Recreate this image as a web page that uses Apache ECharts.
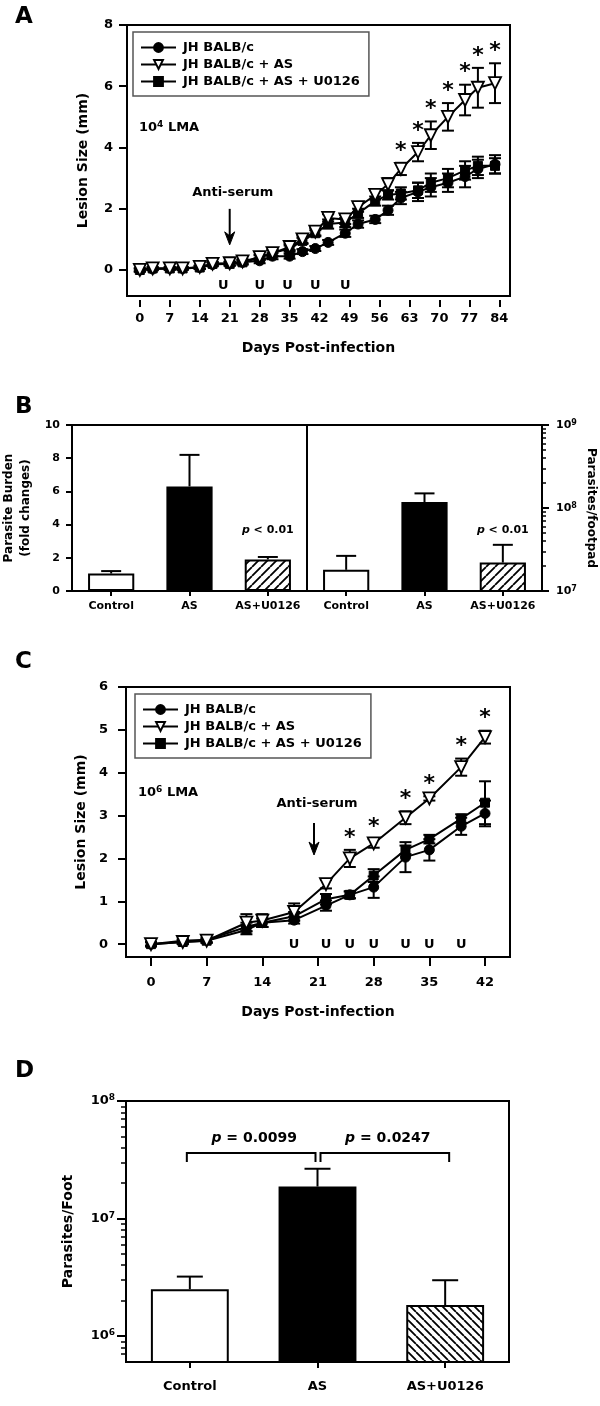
<!DOCTYPE html>
<html>
<head>
<meta charset="utf-8">
<script src="https://cdn.jsdelivr.net/npm/echarts@6.0.0/dist/echarts.min.js"></script>
<style>
html,body{margin:0;padding:0;background:#fff;}
#chart{width:600px;height:1406px;}
</style>
</head>
<body>
<div id="chart"></div>
<script>
// ---------------- DATA ----------------
const seriesNames = ['JH BALB/c', 'JH BALB/c + AS', 'JH BALB/c + AS + U0126'];

// Panel A (10^4 LMA)
const daysA  = [0,3,7,10,14,17,21,24,28,31,35,38,41,44,48,51,55,58,61,65,68,72,76,79,83];
const aJH    = [0,0.03,0.05,0.05,0.08,0.18,0.2,0.25,0.3,0.45,0.45,0.6,0.7,0.9,1.2,1.5,1.65,1.95,2.35,2.55,2.7,2.85,3.05,3.3,3.45];
const aJHErr = [0.05,0.04,0.04,0.04,0.05,0.06,0.06,0.07,0.08,0.1,0.08,0.08,0.08,0.08,0.12,0.12,0.12,0.15,0.2,0.3,0.3,0.3,0.35,0.3,0.3];
const aAS    = [0,0.05,0.05,0.05,0.1,0.2,0.22,0.28,0.42,0.55,0.75,1.0,1.25,1.7,1.65,2.05,2.45,2.8,3.3,3.85,4.4,5.0,5.55,5.95,6.1];
const aASErr = [0.05,0.04,0.04,0.04,0.05,0.06,0.06,0.07,0.08,0.1,0.1,0.12,0.12,0.12,0.15,0.15,0.15,0.2,0.2,0.3,0.45,0.45,0.5,0.65,0.65];
const aU     = [0,0.05,0.05,0.05,0.08,0.2,0.2,0.25,0.4,0.55,0.7,0.95,1.2,1.5,1.55,1.85,2.25,2.45,2.5,2.6,2.85,3.0,3.25,3.4,3.4];
const aUErr  = [0.05,0.04,0.04,0.04,0.05,0.06,0.06,0.07,0.08,0.1,0.1,0.1,0.1,0.15,0.15,0.15,0.15,0.15,0.2,0.25,0.3,0.3,0.3,0.3,0.25];
const starDaysA = [61,65,68,72,76,79,83];
const uDaysA    = [19.5,28,34.5,41,48];
const xTicksA   = [0,7,14,21,28,35,42,49,56,63,70,77,84];
const yTicksA   = [0,2,4,6,8];

// Panel B
const catsB     = ['Control','AS','AS+U0126'];
const bFold     = [1.05, 6.3, 1.9];
const bFoldErr  = [0.15, 1.9, 0.15];
const bPar      = [1.8e7, 1.18e8, 2.2e7];
const bParErr   = [0.85e7, 0.32e8, 1.4e7];
const bLogTicks = [1e7, 1e8, 1e9];
const bLogMinor = [2e7,3e7,4e7,5e7,6e7,7e7,8e7,9e7,2e8,3e8,4e8,5e8,6e8,7e8,8e8,9e8];

// Panel C (10^6 LMA)
const daysC  = [0,4,7,12,14,18,22,25,28,32,35,39,42];
const cJH    = [0,0.08,0.1,0.4,0.5,0.56,0.9,1.15,1.33,2.03,2.2,2.75,3.05];
const cJHErr = [0.05,0.05,0.05,0.1,0.1,0.08,0.12,0.08,0.25,0.35,0.25,0.2,0.3];
const cAS    = [0,0.05,0.08,0.5,0.55,0.75,1.4,2.0,2.35,2.95,3.4,4.13,4.83];
const cASErr = [0.05,0.05,0.05,0.2,0.15,0.2,0.1,0.2,0.1,0.15,0.05,0.2,0.15];
const cU     = [0,0.05,0.08,0.33,0.5,0.65,1.05,1.15,1.6,2.2,2.45,2.93,3.3];
const cUErr  = [0.05,0.05,0.05,0.1,0.1,0.1,0.12,0.08,0.15,0.1,0.1,0.1,0.5];
const starDaysC = [25,28,32,35,39,42];
const uDaysC    = [18,22,25,28,32,35,39];
const xTicksC   = [0,7,14,21,28,35,42];
const yTicksC   = [0,1,2,3,4,5,6];

// Panel D
const catsD     = ['Control','AS','AS+U0126'];
const dPar      = [2.5e6, 1.87e7, 1.83e6];
const dParErr   = [0.7e6, 0.78e7, 1.15e6];
const dPairs    = [[0,1],[1,2]];
const dPText    = ['0.0099','0.0247'];
const dLogTicks = [1e6, 1e7, 1e8];
const dLogMinor = [7e5,8e5,9e5,2e6,3e6,4e6,5e6,6e6,7e6,8e6,9e6,2e7,3e7,4e7,5e7,6e7,7e7,8e7,9e7];

// ---------------- HELPERS ----------------
const FF = 'DejaVu Sans';
function txt(size, extra) { return Object.assign({color:'#000', fontFamily:FF, fontWeight:'bold', fontSize:size}, extra || {}); }
const hiddenLine = {show:false, onZero:false};

function supFormatter(v) { return '{b|10}{s|' + Math.round(Math.log10(v)) + '}'; }
function supRich(base, sup) {
  return { b: txt(base, {lineHeight: base + 2}), s: txt(sup, {verticalAlign:'top', lineHeight: sup + 1}) };
}

function hatchPattern(dir, step, lw) {
  const c = document.createElement('canvas');
  c.width = step; c.height = step;
  const g = c.getContext('2d');
  g.fillStyle = '#fff'; g.fillRect(0, 0, step, step);
  g.strokeStyle = '#000'; g.lineWidth = lw;
  g.beginPath();
  for (let k = -1; k <= 1; k++) {
    if (dir > 0) { g.moveTo(k * step, step); g.lineTo(k * step + step, 0); }
    else { g.moveTo(k * step, 0); g.lineTo(k * step + step, step); }
  }
  g.stroke();
  return c;
}

function errBars(both, cap) {
  return function (params, api) {
    const x = api.value(0), v = api.value(1), e = api.value(2);
    const pTop = api.coord([x, v + e]);
    const pBot = api.coord([x, both ? v - e : v]);
    const st = {stroke:'#000', lineWidth:2, fill:null};
    const ch = [
      {type:'line', shape:{x1:pTop[0], y1:pTop[1], x2:pBot[0], y2:pBot[1]}, style:st},
      {type:'line', shape:{x1:pTop[0]-cap, y1:pTop[1], x2:pTop[0]+cap, y2:pTop[1]}, style:st}
    ];
    if (both) ch.push({type:'line', shape:{x1:pBot[0]-cap, y1:pBot[1], x2:pBot[0]+cap, y2:pBot[1]}, style:st});
    return {type:'group', children:ch};
  };
}

function textMark(str, size, dy, rich) {
  return function (params, api) {
    const p = api.coord([api.value(0), api.value(1)]);
    const style = {text:str, x:p[0], y:p[1] + dy, align:'center', verticalAlign:'middle',
      textAlign:'center', textVerticalAlign:'middle',
      font:'bold ' + size + 'px "' + FF + '"', fill:'#000'};
    if (rich) style.rich = rich;
    return {type:'text', style:style};
  };
}

function arrowMark(textGap, len) {
  return function (params, api) {
    const tip = api.coord([api.value(0), api.value(1)]);
    const x = tip[0], y = tip[1];
    const st = {stroke:'#000', lineWidth:2, fill:null};
    return {type:'group', children:[
      {type:'line', shape:{x1:x, y1:y - len, x2:x, y2:y - 6}, style:st},
      {type:'polygon', shape:{points:[[x-5, y-13],[x, y],[x+5, y-13],[x, y-9]]}, style:{fill:'#000', stroke:'#000', lineWidth:1}},
      {type:'text', style:{text:'Anti-serum', x:x + 3, y:y - textGap, align:'center', verticalAlign:'middle',
        textAlign:'center', textVerticalAlign:'middle', font:'bold 13px "' + FF + '"', fill:'#000'}}
    ]};
  };
}

function bracketMark(params, api) {
  const a = api.value(0), b = api.value(1), lvl = api.value(2);
  const pa = api.coord([a, lvl]), pb = api.coord([b, lvl]);
  const x1 = pa[0] + (params.dataIndex === 0 ? -3 : 3);
  const x2 = pb[0] + (params.dataIndex === 0 ? -2 : 4);
  const y = pa[1];
  const st = {stroke:'#000', lineWidth:2, fill:null};
  return {type:'group', children:[
    {type:'polyline', shape:{points:[[x1, y + 9],[x1, y],[x2, y],[x2, y + 9]]}, style:st},
    {type:'text', style:{text:'{i|p}{n| = ' + dPText[params.dataIndex] + '}', x:(x1 + x2) / 2 + 3, y:y - 15,
      align:'center', verticalAlign:'middle', textAlign:'center', textVerticalAlign:'middle',
      rich:{i:txt(14, {fontStyle:'italic'}), n:txt(14)}}}
  ]};
}

function lineSeries(name, xi, yi, days, vals, kind) {
  const s = {type:'line', name:name, xAxisIndex:xi, yAxisIndex:yi, data:days.map((d, i) => [d, vals[i]]),
    lineStyle:{color:'#000', width:2}, color:'#000', z:4, silent:true, animation:false};
  if (kind === 'circle') { s.symbol = 'circle'; s.symbolSize = 10; s.itemStyle = {color:'#000', borderColor:'#000', borderWidth:1}; }
  if (kind === 'tri') { s.symbol = 'triangle'; s.symbolRotate = 180; s.symbolSize = 12; s.itemStyle = {color:'#fff', borderColor:'#000', borderWidth:1.8}; }
  if (kind === 'rect') { s.symbol = 'rect'; s.symbolSize = 9; s.itemStyle = {color:'#000', borderColor:'#000', borderWidth:1}; }
  return s;
}
function errSeries(xi, yi, days, vals, errs, both, cap) {
  return {type:'custom', xAxisIndex:xi, yAxisIndex:yi, z:3, silent:true,
    data:days.map((d, i) => [d, vals[i], errs[i]]), renderItem:errBars(both, cap)};
}
function starSeries(xi, yi, starDays, days, vals, errs) {
  return {type:'custom', xAxisIndex:xi, yAxisIndex:yi, z:5, silent:true,
    data:starDays.map(d => { const i = days.indexOf(d); return [d, vals[i] + errs[i]]; }),
    renderItem:textMark('*', 22, -12)};
}

const hatchB = hatchPattern(1, 9, 1.8);
const hatchD = hatchPattern(-1, 8, 1.8);
const barFill = (i, hatch) => [{color:'#fff'}, {color:'#000'}, {color:{image:hatch, repeat:'repeat'}}][i];
function barData(vals, hatch) {
  return vals.map((v, i) => ({value:v, itemStyle:Object.assign({borderColor:'#000', borderWidth:2}, barFill(i, hatch))}));
}

const gridBase = {show:true, borderColor:'#000', borderWidth:2, backgroundColor:'transparent', containLabel:false, outerBoundsMode:'none'};
const noSplit = {show:false};
const legendBase = {orient:'vertical', itemWidth:35, itemHeight:11, itemGap:4, selectedMode:false,
  borderColor:'#555', borderWidth:1.5, padding:[9, 9, 8, 7], textStyle:txt(13, {padding:[0,0,0,2]}), data:seriesNames};
function ticks(vals, len, w) {
  const t = {show:true, inside:false, length:len, lineStyle:{color:'#000', width:w || 2}};
  if (vals) t.customValues = vals;
  return t;
}

// ---------------- OPTION ----------------
const option = {
  animation:false,
  backgroundColor:'#fff',
  title:[
    {text:'A', left:10, top:1, textStyle:txt(23)},
    {text:'B', left:10, top:391, textStyle:txt(23)},
    {text:'C', left:10, top:646, textStyle:txt(23)},
    {text:'D', left:10, top:1055, textStyle:txt(23)},
    {text:'{b|10}{s|4}{b| LMA}', left:134, top:115, textStyle:{rich:supRich(13, 9)}},
    {text:'{b|10}{s|6}{b| LMA}', left:133, top:780, textStyle:{rich:supRich(13, 9)}}
  ],
  legend:[
    Object.assign({left:133, top:32}, legendBase),
    Object.assign({left:135, top:694}, legendBase)
  ],
  grid:[
    Object.assign({left:127, top:25, width:383, height:271}, gridBase),
    Object.assign({left:72, top:425, width:235, height:166}, gridBase),
    Object.assign({left:307, top:425, width:235, height:166}, gridBase),
    Object.assign({left:126, top:687, width:384, height:270}, gridBase),
    Object.assign({left:126, top:1101, width:383, height:261}, gridBase)
  ],
  xAxis:[
    {gridIndex:0, type:'value', min:-3, max:86.5, offset:4, axisLine:hiddenLine, splitLine:noSplit,
      axisTick:ticks(xTicksA, 7),
      axisLabel:Object.assign({customValues:xTicksA, margin:12}, txt(13)),
      name:'Days Post-infection', nameLocation:'middle', nameGap:41, nameTextStyle:txt(14)},
    {gridIndex:1, type:'category', data:catsB, axisLine:hiddenLine,
      axisTick:Object.assign(ticks(null, 5), {alignWithLabel:true}),
      axisLabel:Object.assign({margin:10, interval:0}, txt(11))},
    {gridIndex:2, type:'category', data:catsB, axisLine:hiddenLine,
      axisTick:Object.assign(ticks(null, 5), {alignWithLabel:true}),
      axisLabel:Object.assign({margin:10, interval:0}, txt(11))},
    {gridIndex:3, type:'value', min:-3.14, max:45.14, offset:1, axisLine:hiddenLine, splitLine:noSplit,
      axisTick:ticks(xTicksC, 8),
      axisLabel:Object.assign({customValues:xTicksC, margin:18}, txt(13)),
      name:'Days Post-infection', nameLocation:'middle', nameGap:47, nameTextStyle:txt(14)},
    {gridIndex:4, type:'category', data:catsD, axisLine:hiddenLine,
      axisTick:Object.assign(ticks(null, 6), {alignWithLabel:true}),
      axisLabel:Object.assign({margin:18, interval:0}, txt(13))}
  ],
  yAxis:[
    {gridIndex:0, type:'value', position:'left', min:-0.85, max:8, axisLine:hiddenLine, splitLine:noSplit,
      axisTick:ticks(yTicksA, 8),
      axisLabel:Object.assign({customValues:yTicksA, margin:14}, txt(13)),
      name:'Lesion Size (mm)', nameLocation:'middle', nameGap:37, nameTextStyle:txt(14)},
    {gridIndex:1, type:'value', position:'left', min:0, max:10, interval:2, axisLine:hiddenLine, splitLine:noSplit,
      axisTick:ticks(null, 6),
      axisLabel:Object.assign({margin:12}, txt(11)),
      name:'Parasite Burden\n(fold changes)', nameLocation:'middle', nameGap:38, nameTextStyle:txt(12, {lineHeight:17})},
    {gridIndex:2, type:'log', min:1e7, max:1e9, position:'right', axisLine:hiddenLine, splitLine:noSplit,
      axisTick:ticks(bLogTicks, 7),
      axisLabel:{customValues:bLogTicks, margin:14, formatter:supFormatter, rich:supRich(11, 8)},
      name:'Parasites/footpad', nameLocation:'middle', nameRotate:-90, nameGap:43, nameTextStyle:txt(12)},
    {gridIndex:2, type:'log', min:1e7, max:1e9, position:'right', axisLine:hiddenLine, splitLine:noSplit,
      axisTick:ticks(bLogMinor, 4, 1.5),
      axisLabel:{show:false}},
    {gridIndex:3, type:'value', position:'left', min:-0.3, max:6, axisLine:hiddenLine, splitLine:noSplit,
      axisTick:ticks(yTicksC, 8),
      axisLabel:Object.assign({customValues:yTicksC, margin:18}, txt(13)),
      name:'Lesion Size (mm)', nameLocation:'middle', nameGap:35, nameTextStyle:txt(14)},
    {gridIndex:4, type:'log', position:'left', min:6e5, max:1e8, axisLine:hiddenLine, splitLine:noSplit,
      axisTick:ticks(dLogTicks, 9),
      axisLabel:{customValues:dLogTicks, margin:11, formatter:supFormatter, rich:supRich(13, 9)},
      name:'Parasites/Foot', nameLocation:'middle', nameGap:51, nameTextStyle:txt(14)},
    {gridIndex:4, type:'log', position:'left', min:6e5, max:1e8, axisLine:hiddenLine, splitLine:noSplit,
      axisTick:ticks(dLogMinor, 5, 1.5),
      axisLabel:{show:false}}
  ],
  series:[
    // ----- Panel A
    errSeries(0, 0, daysA, aJH, aJHErr, true, 6),
    errSeries(0, 0, daysA, aU, aUErr, true, 6),
    errSeries(0, 0, daysA, aAS, aASErr, true, 6),
    lineSeries(seriesNames[0], 0, 0, daysA, aJH, 'circle'),
    lineSeries(seriesNames[2], 0, 0, daysA, aU, 'rect'),
    lineSeries(seriesNames[1], 0, 0, daysA, aAS, 'tri'),
    starSeries(0, 0, starDaysA, daysA, aAS, aASErr),
    {type:'custom', xAxisIndex:0, yAxisIndex:0, silent:true, data:uDaysA.map(d => [d, -0.5]), renderItem:textMark('U', 13, 0)},
    {type:'custom', xAxisIndex:0, yAxisIndex:0, silent:true, data:[[21, 0.82]], renderItem:arrowMark(52, 36)},
    // ----- Panel B
    {type:'bar', xAxisIndex:1, yAxisIndex:1, barWidth:'59%', silent:true, z:2, data:barData(bFold, hatchB)},
    {type:'custom', xAxisIndex:1, yAxisIndex:1, silent:true, z:1, data:bFold.map((v, i) => [i, v, bFoldErr[i]]), renderItem:errBars(false, 10)},
    {type:'custom', xAxisIndex:1, yAxisIndex:1, silent:true, data:[[2, 3.65]], renderItem:textMark('{i|p}{n| < 0.01}', 11, 0, {i:txt(11, {fontStyle:'italic'}), n:txt(11)})},
    {type:'bar', xAxisIndex:2, yAxisIndex:2, barWidth:'59%', silent:true, z:2, clip:true, data:barData(bPar, hatchB)},
    {type:'custom', xAxisIndex:2, yAxisIndex:2, silent:true, z:1, data:bPar.map((v, i) => [i, v, bParErr[i]]), renderItem:errBars(false, 10)},
    {type:'custom', xAxisIndex:2, yAxisIndex:2, silent:true, data:[[2, 5.4e7]], renderItem:textMark('{i|p}{n| < 0.01}', 11, 0, {i:txt(11, {fontStyle:'italic'}), n:txt(11)})},
    // ----- Panel C
    errSeries(3, 4, daysC, cJH, cJHErr, true, 6),
    errSeries(3, 4, daysC, cU, cUErr, true, 6),
    errSeries(3, 4, daysC, cAS, cASErr, true, 6),
    lineSeries(seriesNames[0], 3, 4, daysC, cJH, 'circle'),
    lineSeries(seriesNames[2], 3, 4, daysC, cU, 'rect'),
    lineSeries(seriesNames[1], 3, 4, daysC, cAS, 'tri'),
    starSeries(3, 4, starDaysC, daysC, cAS, cASErr),
    {type:'custom', xAxisIndex:3, yAxisIndex:4, silent:true, data:uDaysC.map(d => [d, 0]), renderItem:textMark('U', 13, 0)},
    {type:'custom', xAxisIndex:3, yAxisIndex:4, silent:true, data:[[20.5, 2.08]], renderItem:arrowMark(51, 32)},
    // ----- Panel D
    {type:'bar', xAxisIndex:4, yAxisIndex:5, barWidth:'61%', silent:true, z:2, clip:true, data:barData(dPar, hatchD)},
    {type:'custom', xAxisIndex:4, yAxisIndex:5, silent:true, z:1, data:dPar.map((v, i) => [i, v, dParErr[i]]), renderItem:errBars(false, 13)},
    {type:'custom', xAxisIndex:4, yAxisIndex:5, silent:true, data:dPairs.map(p => [p[0], p[1], 3.6e7]), renderItem:bracketMark}
  ]
};

const chart = echarts.init(document.getElementById('chart'), null, {renderer:'canvas'});
chart.setOption(option);
</script>
</body>
</html>
